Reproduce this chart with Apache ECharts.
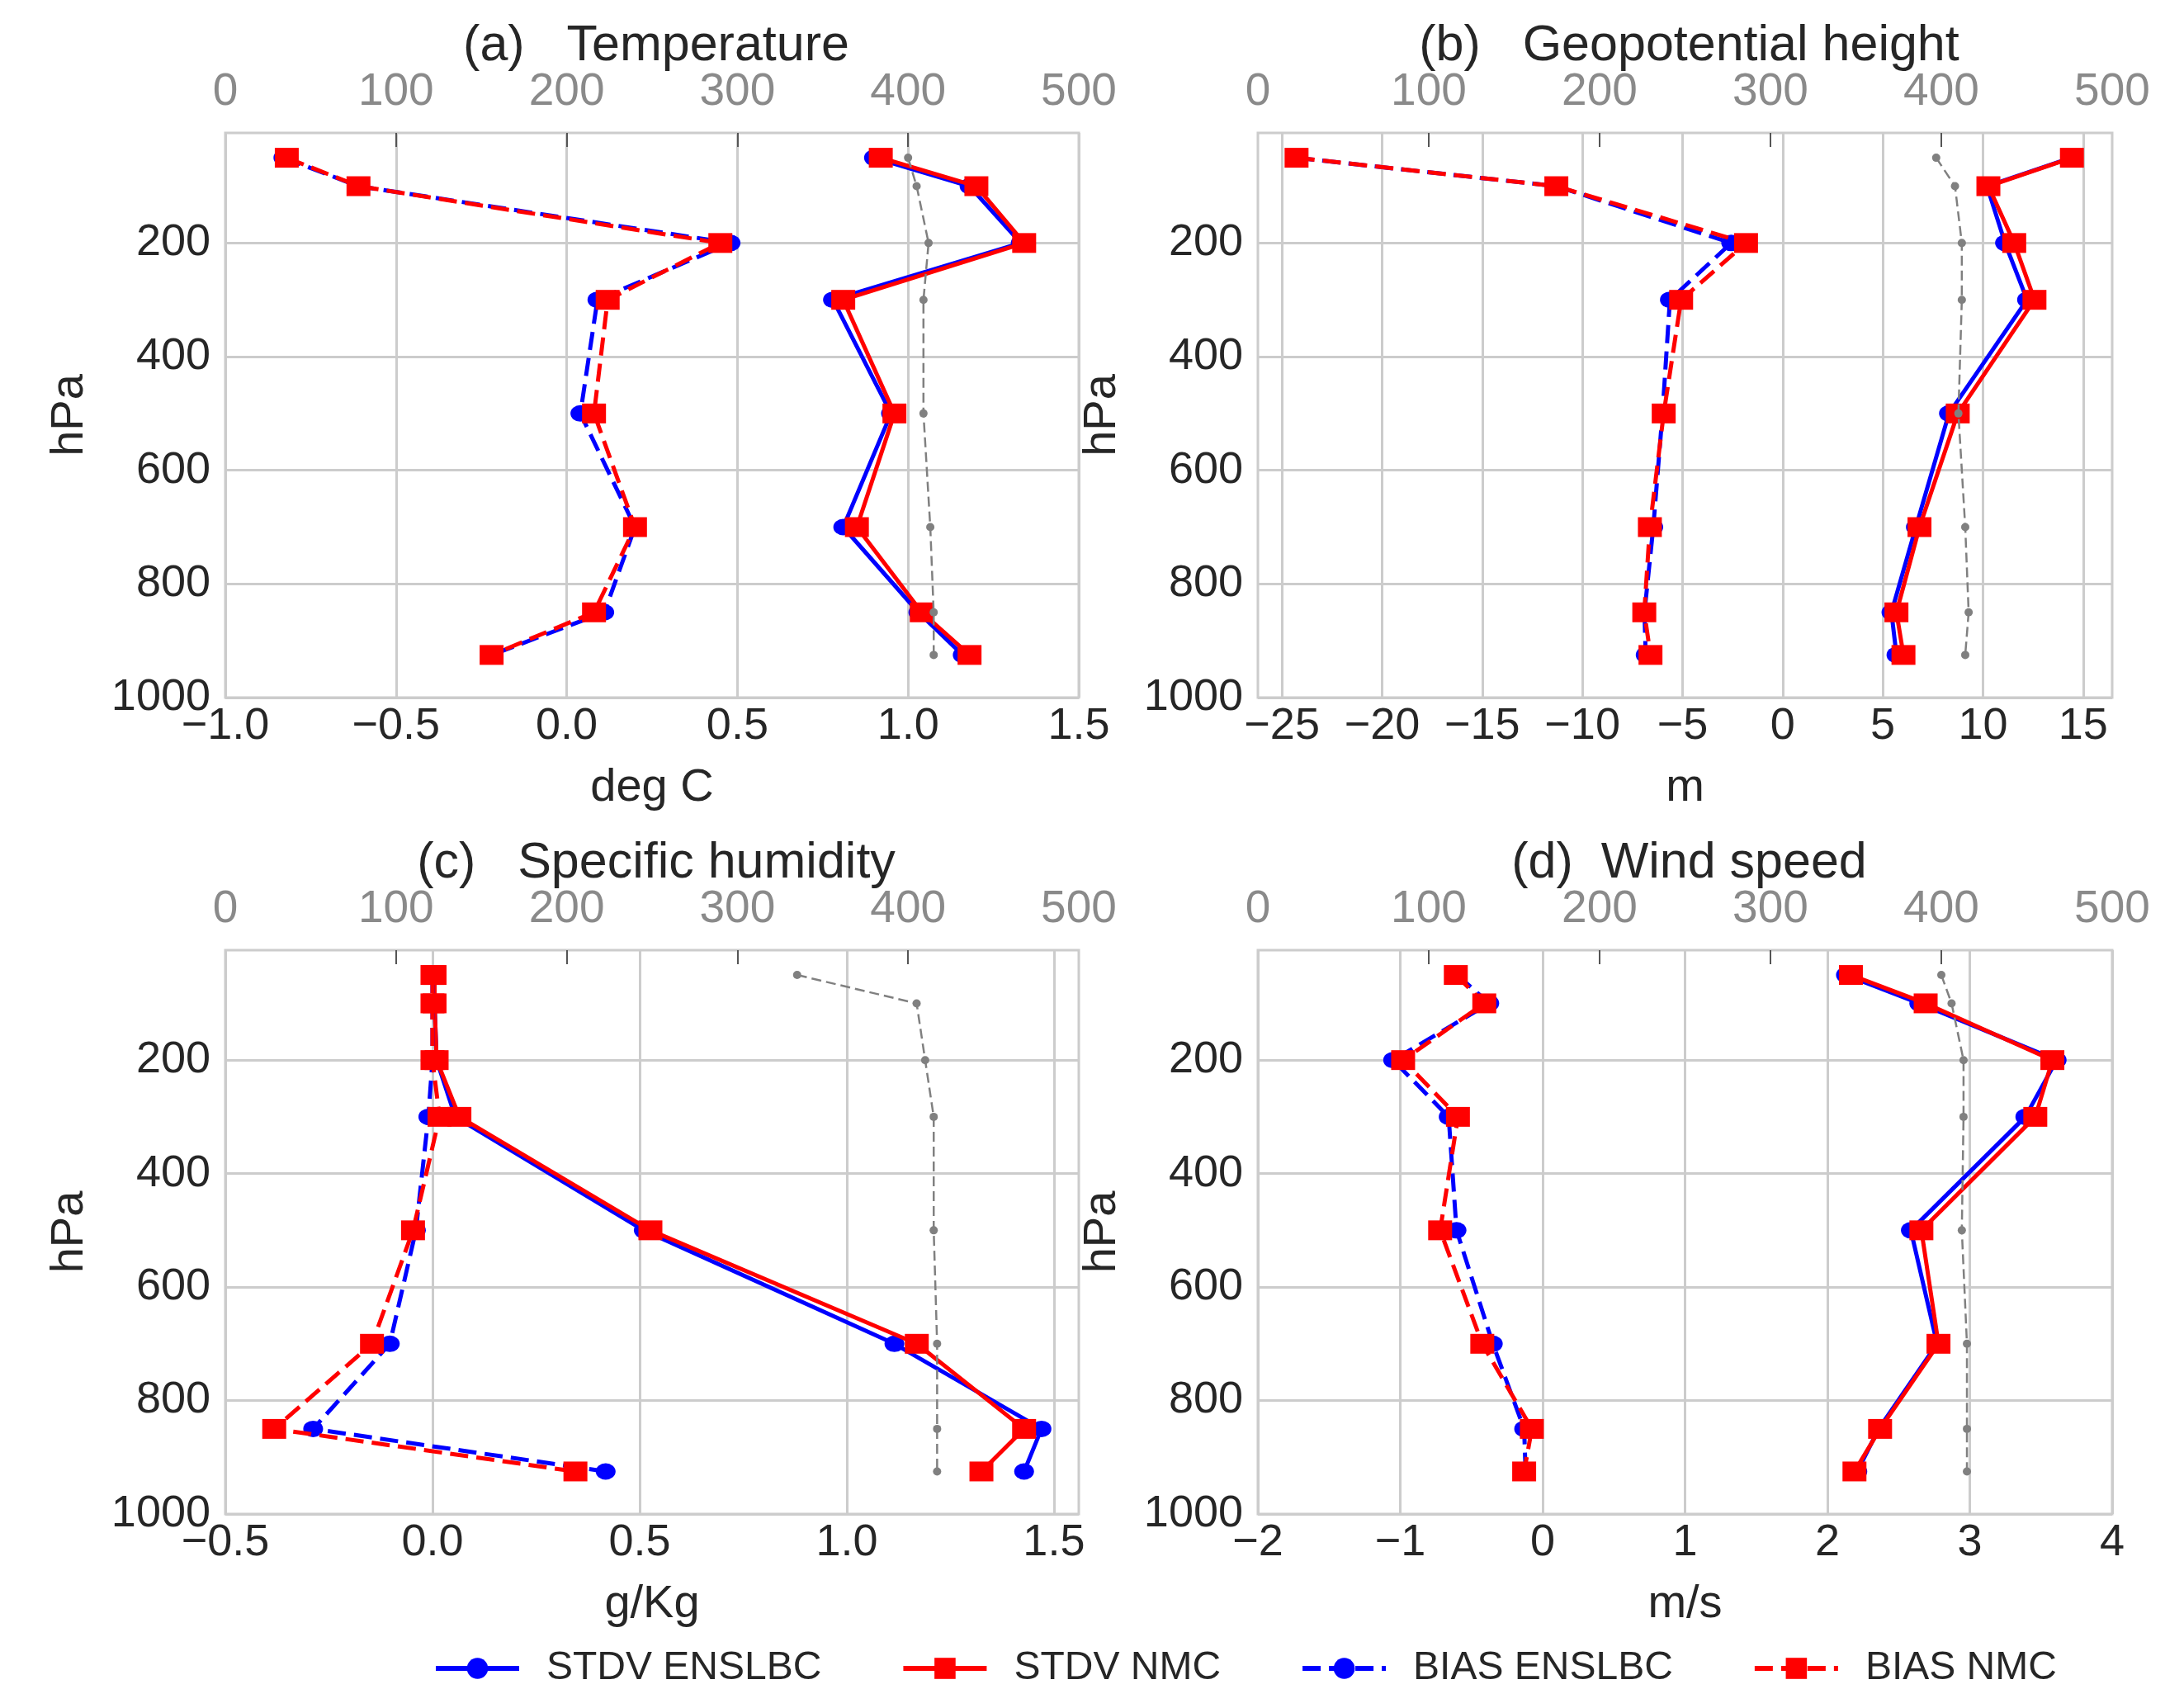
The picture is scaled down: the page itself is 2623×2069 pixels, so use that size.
<!DOCTYPE html>
<html><head><meta charset="utf-8">
<script src="https://cdn.jsdelivr.net/npm/echarts@6/dist/echarts.min.js"></script>
<style>html,body{margin:0;padding:0;background:#fff}#c{width:2623px;height:2069px}</style>
</head><body><div id="c"></div>
<script>
// pressure levels (hPa)
const levels = [50, 100, 200, 300, 500, 700, 850, 925];
const yTicks = [200, 400, 600, 800, 1000];
const countTicks = [0, 100, 200, 300, 400, 500];

// (a) Temperature (deg C)
const tempStdvEns = [0.90, 1.18, 1.33, 0.78, 0.95, 0.81, 1.03, 1.16];
const tempStdvNmc = [0.92, 1.20, 1.34, 0.81, 0.96, 0.85, 1.04, 1.18];
const tempBiasEns = [-0.83, -0.61, 0.48, 0.09, 0.04, 0.20, 0.11, -0.22];
const tempBiasNmc = [-0.82, -0.61, 0.45, 0.12, 0.08, 0.20, 0.08, -0.22];
const tempCount   = [400, 405, 412, 409, 409, 413, 415, 415];
const tempTicks   = [-1.0, -0.5, 0.0, 0.5, 1.0, 1.5];

// (b) Geopotential height (m)
const gphStdvEns = [14.4, 10.2, 11.1, 12.2, 8.3, 6.65, 5.43, 5.68];
const gphStdvNmc = [14.44, 10.27, 11.56, 12.57, 8.74, 6.83, 5.68, 6.03];
const gphBiasEns = [-24.3, -11.3, -2.57, -5.63, -6.0, -6.46, -6.9, -6.84];
const gphBiasNmc = [-24.27, -11.3, -1.83, -5.07, -5.94, -6.63, -6.91, -6.6];
const gphCount   = [397, 408, 412, 412, 410, 414, 416, 414];
const gphTicks   = [-25, -20, -15, -10, -5, 0, 5, 10, 15];

// (c) Specific humidity (g/Kg)
const qStdvEns = [0.005, 0.005, 0.01, 0.055, 0.51, 1.115, 1.47, 1.428];
const qStdvNmc = [0.005, 0.005, 0.01, 0.065, 0.526, 1.169, 1.428, 1.325];
const qBiasEns = [0.0, 0.0, 0.0, -0.01, -0.04, -0.103, -0.288, 0.418];
const qBiasNmc = [0.0, 0.0, 0.0, 0.017, -0.047, -0.146, -0.382, 0.345];
const qCount   = [335, 405, 410, 415, 415, 417, 417, 417];
const qTicks   = [-0.5, 0.0, 0.5, 1.0, 1.5];

// (d) Wind speed (m/s)
const wsStdvEns = [2.13, 2.645, 3.61, 3.39, 2.586, 2.77, 2.36, 2.21];
const wsStdvNmc = [2.165, 2.69, 3.58, 3.46, 2.66, 2.78, 2.37, 2.19];
const wsBiasEns = [-0.6, -0.375, -1.05, -0.66, -0.605, -0.35, -0.13, -0.12];
const wsBiasNmc = [-0.61, -0.41, -0.98, -0.595, -0.72, -0.424, -0.076, -0.13];
const wsCount   = [400, 406, 413, 413, 412, 415, 415, 415];
const wsTicks   = [-2, -1, 0, 1, 2, 3, 4];

const seriesNames = ['STDV ENSLBC', 'STDV NMC', 'BIAS ENSLBC', 'BIAS NMC'];

const FONT = 'Liberation Sans';
const TXT = '#262626';
const GRID = '#cccccc';

const panels = [
  {title: '(a)   Temperature', unit: 'deg C', left: 273, top: 161, width: 1034, height: 684, xmin: -1.0, xmax: 1.5, ticks: tempTicks, dec: 1,
   d: [tempStdvEns, tempStdvNmc, tempBiasEns, tempBiasNmc], cnt: tempCount},
  {title: '(b)   Geopotential height', unit: 'm', left: 1524, top: 161, width: 1035, height: 684, xmin: -26.2, xmax: 16.45, ticks: gphTicks, dec: 0,
   d: [gphStdvEns, gphStdvNmc, gphBiasEns, gphBiasNmc], cnt: gphCount},
  {title: '(c)   Specific humidity', unit: 'g/Kg', left: 273, top: 1151, width: 1034, height: 683, xmin: -0.5, xmax: 1.56, ticks: qTicks, dec: 1,
   d: [qStdvEns, qStdvNmc, qBiasEns, qBiasNmc], cnt: qCount},
  {title: '(d)  Wind speed', unit: 'm/s', left: 1524, top: 1151, width: 1035, height: 683, xmin: -2, xmax: 4, ticks: wsTicks, dec: 0,
   d: [wsStdvEns, wsStdvNmc, wsBiasEns, wsBiasNmc], cnt: wsCount}
];

function fmt(dec) {
  return v => (v < -1e-9 ? '\u2212' : '') + Math.abs(v).toFixed(dec);
}
function zip(xs) { return xs.map((x, i) => [x, levels[i]]); }

const styles = [
  {color: '#0000ff', symbol: 'circle', size: [24, 20], dash: 'solid'},
  {color: '#ff0000', symbol: 'rect', size: [29, 24], dash: 'solid'},
  {color: '#0000ff', symbol: 'circle', size: [24, 20], dash: [22, 10]},
  {color: '#ff0000', symbol: 'rect', size: [29, 24], dash: [22, 10]}
];

const grid = [], xAxis = [], yAxis = [], series = [], title = [];
panels.forEach((p, i) => {
  grid.push({left: p.left, top: p.top, width: p.width, height: p.height, show: true,
    borderColor: GRID, borderWidth: 3, backgroundColor: '#ffffff'});
  title.push({text: p.title, left: p.left + p.width / 2, top: p.top - 140, textAlign: 'center',
    textStyle: {fontSize: 61, fontWeight: 'normal', color: TXT, fontFamily: FONT}});
  xAxis.push({type: 'value', gridIndex: i, position: 'bottom', min: p.xmin, max: p.xmax,
    axisLine: {show: false},
    axisTick: {show: false, customValues: p.ticks},
    axisLabel: {customValues: p.ticks, formatter: fmt(p.dec), fontSize: 54, color: TXT, margin: 8, fontFamily: FONT},
    splitLine: {show: true, lineStyle: {color: GRID, width: 3}},
    name: p.unit, nameLocation: 'middle', nameGap: 82,
    nameTextStyle: {fontSize: 56, color: TXT, fontFamily: FONT}});
  xAxis.push({type: 'value', gridIndex: i, position: 'top', min: 0, max: 500, interval: 100,
    axisLine: {show: false},
    axisTick: {show: true, inside: true, length: 17, customValues: [100, 200, 300, 400], lineStyle: {color: '#555555', width: 2}},
    axisLabel: {customValues: countTicks, formatter: v => String(v), fontSize: 55, color: '#8a8a8a', margin: 22, fontFamily: FONT},
    splitLine: {show: false}});
  yAxis.push({type: 'value', gridIndex: i, inverse: true, min: 6.25, max: 1000,
    axisLine: {show: false},
    axisTick: {show: false, customValues: yTicks},
    axisLabel: {customValues: yTicks, formatter: v => String(v), fontSize: 54, color: TXT, margin: 18, fontFamily: FONT},
    splitLine: {show: true, lineStyle: {color: GRID, width: 3}},
    name: 'hPa', nameLocation: 'middle', nameGap: 160,
    nameTextStyle: {fontSize: 56, color: TXT, fontFamily: FONT}});
  p.d.forEach((arr, k) => {
    const s = styles[k];
    series.push({type: 'line', name: seriesNames[k], xAxisIndex: 2 * i, yAxisIndex: i,
      data: zip(arr), symbol: s.symbol, symbolSize: s.size, showSymbol: true,
      itemStyle: {color: s.color}, lineStyle: {color: s.color, width: 5, type: s.dash},
      emphasis: {disabled: true}, clip: false, z: 3 + k});
  });
  series.push({type: 'line', name: 'count', xAxisIndex: 2 * i + 1, yAxisIndex: i,
    data: zip(p.cnt), symbol: 'circle', symbolSize: 10,
    itemStyle: {color: '#808080'}, lineStyle: {color: '#808080', width: 2.5, type: [12, 6]},
    emphasis: {disabled: true}, z: 8});
});

const chart = echarts.init(document.getElementById('c'), null, {renderer: 'canvas'});
chart.setOption({
  animation: false,
  backgroundColor: '#ffffff',
  textStyle: {fontFamily: FONT},
  title: title,
  legend: {data: seriesNames, left: 520, top: 1992, itemWidth: 101, itemHeight: 32, itemGap: 96,
    lineStyle: {width: 6, type: 'inherit'},
    textStyle: {fontSize: 48, color: TXT, fontFamily: FONT, padding: [0, 0, 0, 28]}},
  grid: grid, xAxis: xAxis, yAxis: yAxis, series: series
});
</script></body></html>
